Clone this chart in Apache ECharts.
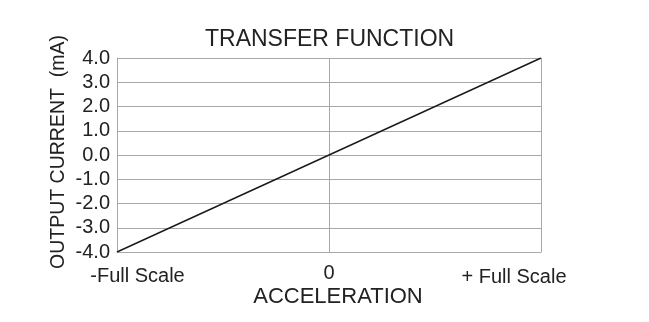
<!DOCTYPE html>
<html>
<head>
<meta charset="utf-8">
<script src="https://cdn.jsdelivr.net/npm/echarts@6/dist/echarts.min.js"></script>
<style>
html,body{margin:0;padding:0;background:#fff;}
#c{width:649px;height:322px;}
</style>
</head>
<body>
<div id="c"></div>
<script>
const titleText = 'TRANSFER FUNCTION';
const xName = 'ACCELERATION';
const yName = 'OUTPUT CURRENT  (mA)';
const xTickValues = [-1, 0, 1];
const xTickLabels = ['-Full Scale', '0', '+ Full Scale'];
const yTicks = [-4, -3, -2, -1, 0, 1, 2, 3, 4];
const lineX = [-1, 1];
const lineY = [-4.0, 4.0];

const FONT = '"Liberation Sans", Arial, sans-serif';
const gridColor = '#a8a8a8';
const textColor = '#222';

const chart = echarts.init(document.getElementById('c'), null, {renderer: 'canvas'});
chart.setOption({
  animation: false,
  backgroundColor: '#fff',
  title: {
    text: titleText,
    left: 205, top: 28, padding: 0,
    textStyle: {fontFamily: FONT, fontSize: 23, fontWeight: 'normal', color: textColor}
  },
  grid: {left: 117, right: 108, top: 58, bottom: 70, containLabel: false},
  xAxis: {
    type: 'value', min: -1, max: 1, interval: 1,
    name: xName, nameLocation: 'middle', nameGap: 34, nameMoveOverlap: false,
    nameTextStyle: {fontFamily: FONT, fontSize: 22, color: textColor, padding: [0, 0, 0, 18]},
    axisLine: {show: true, onZero: false, lineStyle: {color: gridColor, width: 1}},
    axisTick: {show: false},
    splitLine: {show: true, lineStyle: {color: gridColor, width: 1}},
    axisLabel: {
      margin: 11,
      fontFamily: FONT, fontSize: 20, color: textColor,
      formatter: function (v) {
        const i = xTickValues.indexOf(v);
        if (i === 0) return '{l|' + xTickLabels[0] + '}';
        if (i === 2) return '{r|' + xTickLabels[2] + '}';
        return '{c|' + xTickLabels[1] + '}';
      },
      rich: {
        l: {fontFamily: FONT, fontSize: 20, color: textColor, padding: [3, 0, 0, 41]},
        c: {fontFamily: FONT, fontSize: 20, color: textColor, padding: [0, 0, 0, 0]},
        r: {fontFamily: FONT, fontSize: 20, color: textColor, padding: [4, 54, 0, 0]}
      }
    }
  },
  yAxis: {
    type: 'value', min: yTicks[0], max: yTicks[yTicks.length - 1], interval: 1,
    name: yName, nameLocation: 'middle', nameGap: 48, nameRotate: 90, nameMoveOverlap: false,
    nameTextStyle: {fontFamily: FONT, fontSize: 19.5, color: textColor, padding: [0, 0, 0, 6]},
    axisLine: {show: true, onZero: false, lineStyle: {color: gridColor, width: 1}},
    axisTick: {show: false},
    splitLine: {show: true, lineStyle: {color: gridColor, width: 1}},
    axisLabel: {
      margin: 7,
      fontFamily: FONT, fontSize: 20, color: textColor,
      formatter: function (v) { return v.toFixed(1); }
    }
  },
  series: [{
    type: 'line',
    data: lineX.map((x, i) => [x, lineY[i]]),
    showSymbol: false,
    lineStyle: {color: '#1a1a1a', width: 1.4},
    silent: true
  }]
});
</script>
</body>
</html>
